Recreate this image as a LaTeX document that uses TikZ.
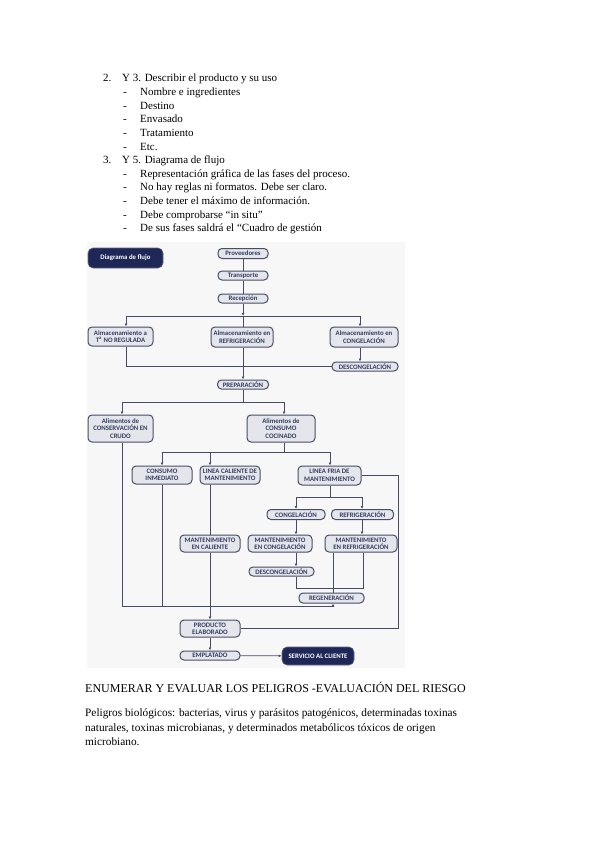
\documentclass[tikz,border=0pt]{standalone}
\usepackage{fontspec}
\setmainfont{Liberation Serif}
\newfontfamily\boxfont{Carlito}
\usetikzlibrary{arrows.meta}
\definecolor{boxdraw}{HTML}{474D66}
\definecolor{boxfill}{HTML}{E4E6EC}
\definecolor{boxtext}{HTML}{353D60}
\definecolor{navy}{HTML}{1F2757}
\definecolor{linecol}{HTML}{454B68}
\definecolor{photobg}{HTML}{F7F7F7}
\begin{document}
\begin{tikzpicture}[x=1pt,y=-1pt,
  fbox/.style={draw=boxdraw, line width=1pt, fill=boxfill, rounded corners=4pt, inner sep=0pt, align=center, font=\boxfont\bfseries\fontsize{6.8}{7.4}\selectfont, text=boxtext},
  dbox/.style={fill=navy, draw=navy!70, line width=0.6pt, rounded corners=5pt, inner sep=0pt, align=center, text=white, font=\boxfont\bfseries\fontsize{6.8}{7.6}\selectfont},
  conn/.style={draw=linecol, line width=0.8pt},
  arr/.style={conn, -{Latex[length=3pt,width=2.8pt]}},
  ln/.style={anchor=base west, inner sep=0pt, font=\fontsize{11}{13}\selectfont},
  lnb/.style={anchor=base west, inner sep=0pt, font=\fontsize{12}{14}\selectfont},
  lnp/.style={anchor=base west, inner sep=0pt, font=\fontsize{11.3}{14}\selectfont}
]
\useasboundingbox (0,0) rectangle (599,848);
\fill[white] (0,0) rectangle (599,848);
\fill[photobg] (87,242) rectangle (405,668);

% ---------- top text ----------
\node[ln] (n2) at (103,82) {2.};
\node[ln] (h2) at (122,82) {Y 3. Describir el producto y su uso};
\node[ln] (d1) at (123,95.6) {-};  \node[ln] (i1) at (140,95.6) {Nombre e ingredientes};
\node[ln] (d2) at (123,109.2) {-}; \node[ln] (i2) at (140,109.2) {Destino};
\node[ln] (d3) at (123,122.8) {-}; \node[ln] (i3) at (140,122.8) {Envasado};
\node[ln] (d4) at (123,136.4) {-}; \node[ln] (i4) at (140,136.4) {Tratamiento};
\node[ln] (d5) at (123,150) {-};   \node[ln] (i5) at (140,150) {Etc.};
\node[ln] (n3) at (103,163.6) {3.};
\node[ln] (h3) at (122,163.6) {Y 5. Diagrama de flujo};
\node[ln] (d6) at (123,177.2) {-};  \node[ln] (i6) at (140,177.2) {Representación gráfica de las fases del proceso.};
\node[ln] (d7) at (123,190.8) {-};  \node[ln] (i7) at (140,190.8) {No hay reglas ni formatos. Debe ser claro.};
\node[ln] (d8) at (123,204.4) {-};  \node[ln] (i8) at (140,204.4) {Debe tener el máximo de información.};
\node[ln] (d9) at (123,218) {-};    \node[ln] (i9) at (140,218) {Debe comprobarse “in situ”};
\node[ln] (d10) at (123,231.6) {-}; \node[ln] (i10) at (140,231.6) {De sus fases saldrá el “Cuadro de gestión};

% ---------- flowchart boxes ----------
\node[dbox, minimum width=75pt, minimum height=20pt] (diag) at (125.5,258) {Diagrama de flujo};
\node[fbox, minimum width=50pt, minimum height=10pt] (prov) at (243,253.5) {Proveedores};
\node[fbox, minimum width=50pt, minimum height=9pt] (trans) at (243,275.5) {Transporte};
\node[fbox, minimum width=50pt, minimum height=9pt] (recep) at (243,298.5) {Recepción};
\node[fbox, minimum width=65pt, minimum height=19pt] (almA) at (120.5,336.5) {Almacenamiento a\\T\textsuperscript{a} NO REGULADA};
\node[fbox, minimum width=62pt, minimum height=20pt] (almR) at (242,337) {Almacenamiento en\\REFRIGERACIÓN};
\node[fbox, minimum width=68pt, minimum height=20pt] (almC) at (364,337) {Almacenamiento en\\CONGELACIÓN};
\node[fbox, minimum width=66pt, minimum height=9pt] (desc1) at (365,366.5) {DESCONGELACIÓN};
\node[fbox, minimum width=51pt, minimum height=9pt] (prep) at (243,384.5) {PREPARACIÓN};
\node[fbox, minimum width=65pt, minimum height=27pt] (crudo) at (120.5,428.5) {Alimentos de\\CONSERVACIÓN EN\\CRUDO};
\node[fbox, minimum width=68pt, minimum height=27pt] (cocin) at (281,428.5) {Alimentos de\\CONSUMO\\COCINADO};
\node[fbox, minimum width=60pt, minimum height=18pt] (inmed) at (162,475) {CONSUMO\\INMEDIATO};
\node[fbox, minimum width=60pt, minimum height=18pt] (lcal) at (230,475) {LINEA CALIENTE DE\\MANTENIMIENTO};
\node[fbox, minimum width=63pt, minimum height=19pt] (lfria) at (329.5,475.5) {LINEA FRIA DE\\MANTENIMIENTO};
\node[fbox, minimum width=58pt, minimum height=10pt] (cong) at (296,514.5) {CONGELACIÓN};
\node[fbox, minimum width=62pt, minimum height=10pt] (refr) at (362.5,514.5) {REFRIGERACIÓN};
\node[fbox, minimum width=60pt, minimum height=17pt] (mcal) at (210,543.5) {MANTENIMIENTO\\EN CALIENTE};
\node[fbox, minimum width=64pt, minimum height=17pt] (mcong) at (280,543.5) {MANTENIMIENTO\\EN CONGELACIÓN};
\node[fbox, minimum width=72pt, minimum height=17pt] (mref) at (361,543.5) {MANTENIMIENTO\\EN REFRIGERACIÓN};
\node[fbox, minimum width=65pt, minimum height=9pt] (desc2) at (281.5,571.5) {DESCONGELACIÓN};
\node[fbox, minimum width=65pt, minimum height=10pt] (regen) at (331.5,598) {REGENERACIÓN};
\node[fbox, minimum width=60pt, minimum height=17pt] (prod) at (210,628.5) {PRODUCTO\\ELABORADO};
\node[fbox, minimum width=60pt, minimum height=9pt] (empl) at (210,655.5) {EMPLATADO};
\node[dbox, minimum width=72pt, minimum height=18pt] (serv) at (318,656) {SERVICIO AL CLIENTE};

% ---------- junction coordinates ----------
\coordinate (j1) at (243,316);
\coordinate (j1L) at (126,316);
\coordinate (j1R) at (360,316);
\coordinate (j2) at (243,402);
\coordinate (j2L) at (122,402);
\coordinate (j2R) at (284,402);
\coordinate (j3) at (284,452);
\coordinate (j3L) at (162,452);
\coordinate (j3M) at (210,452);
\coordinate (j3R) at (330,452);
\coordinate (j4) at (330,497);
\coordinate (j4L) at (296,497);
\coordinate (j4R) at (362,497);
\coordinate (j5L) at (296,588);
\coordinate (j5R) at (363,588);
\coordinate (j6) at (333,606);
\coordinate (j7L) at (122,606);
\coordinate (j8) at (398,477);

% ---------- connectors ----------
\draw[conn] (prov) -- (trans);
\draw[conn] (trans) -- (recep);
\draw[arr] (recep) -- (j1);
\draw[conn] (j1L) -- (j1R);
\draw[arr] (j1L) -- (j1L |- almA.north);
\draw[arr] (j1R) -- (j1R |- almC.north);
\draw[conn] (j1) -- (j1 |- almR.north);
\draw[arr] (almC.south -| j1R) -- (desc1.north -| j1R);
\draw[conn] (almA.south -| j1L) |- (desc1.west);
\draw[arr] (almR.south -| j1) -- (prep.north -| j1);
\draw[conn] (prep) -- (j2);
\draw[conn] (j2L) -- (j2R);
\draw[arr] (j2L) -- (j2L |- crudo.north);
\draw[arr] (j2R) -- (j2R |- cocin.north);
\draw[conn] (cocin.south -| j3) -- (j3);
\draw[conn] (j3L) -- (j3R);
\draw[arr] (j3L) -- (j3L |- inmed.north);
\draw[arr] (j3M) -- (j3M |- lcal.north);
\draw[arr] (j3R) -- (j3R |- lfria.north);
\draw[conn] (lfria.south -| j4) -- (j4);
\draw[conn] (j4L) -- (j4R);
\draw[arr] (j4L) -- (j4L |- cong.north);
\draw[arr] (j4R) -- (j4R |- refr.north);
\draw[arr] (cong.south -| j4L) -- (mcong.north -| j4L);
\draw[arr] (refr.south -| j4R) -- (mref.north -| j4R);
\draw[arr] (mcong.south -| j4L) -- (desc2.north -| j4L);
\draw[conn] (desc2.south -| j5L) -- (j5L) -- (j5R) -- (mref.south -| j5R);
\draw[conn] (mref.south -| j6) -- (regen.north -| j6);
\draw[conn] (crudo.south -| j7L) -- (j7L) -- (j6);
\draw[arr] (j6) -- (regen.south -| j6);
\draw[conn] (inmed.south -| j3L) -- (j3L |- j7L);
\draw[conn] (lcal.south -| j3M) -- (mcal.north -| j3M);
\draw[arr] (mcal.south -| j3M) -- (prod.north -| j3M);
\draw[conn] (lfria.east) -- (lfria.east -| j8) -- (j8 |- prod.east) -- (prod.east);
\draw[arr] (prod) -- (empl);
\draw[arr] (empl) -- (serv);

% ---------- bottom text ----------
\node[lnb] (t1) at (85,692) {ENUMERAR Y EVALUAR LOS PELIGROS -EVALUACIÓN DEL RIESGO};
\node[lnp] (p1) at (85,716.5) {Peligros biológicos: bacterias, virus y parásitos patogénicos, determinadas toxinas};
\node[lnp] (p2) at (85,731) {naturales, toxinas microbianas, y determinados metabólicos tóxicos de origen};
\node[lnp] (p3) at (85,745.5) {microbiano.};
\end{tikzpicture}
\end{document}
